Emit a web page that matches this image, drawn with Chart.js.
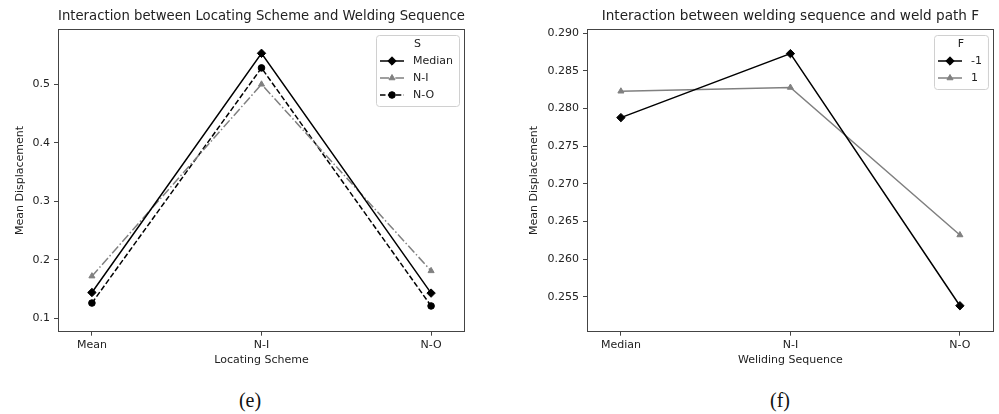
<!DOCTYPE html>
<html>
<head>
<meta charset="utf-8">
<script src="https://cdn.jsdelivr.net/npm/chart.js@4"></script>
<style>
  body { margin: 0; background: #fff; }
  #wrap { position: relative; width: 999px; height: 414px; overflow: hidden; }
  canvas { position: absolute; top: 0; }
  .cap { position: absolute; top: 389px; width: 60px; text-align: center;
         font: 20px "Liberation Serif", serif; color: #111; line-height: 22px; }
</style>
</head>
<body>
<div id="wrap">
  <canvas id="chartE" width="500" height="370" style="left:0"></canvas>
  <canvas id="chartF" width="499" height="370" style="left:500px"></canvas>
  <div class="cap" style="left:220px">(e)</div>
  <div class="cap" style="left:750px">(f)</div>
</div>
<script>
// (e) locating scheme x welding sequence
const locatingSchemes = ['Mean', 'N-I', 'N-O'];
const seqMedian = [0.144, 0.553, 0.143];
const seqNI = [0.172, 0.500, 0.181];
const seqNO = [0.126, 0.528, 0.121];
const ticksE = [0.1, 0.2, 0.3, 0.4, 0.5];

// (f) welding sequence x weld path F
const weldingSequences = ['Median', 'N-I', 'N-O'];
const pathMinus = [0.2788, 0.2873, 0.2538];
const pathPlus = [0.2823, 0.2828, 0.2632];
const ticksF = [0.255, 0.260, 0.265, 0.270, 0.275, 0.280, 0.285, 0.290];

Chart.defaults.font.family = '"DejaVu Sans", sans-serif';
Chart.defaults.font.size = 11;
Chart.defaults.color = '#222';

const toPoints = vals => vals.map((v, i) => ({ x: i, y: v }));

// frame around the plot + matplotlib style legend inside the axes
const mplFrame = {
    id: 'mplFrame',
    afterDatasetsDraw(chart, args, opts) {
        const { ctx, chartArea: a } = chart;
        ctx.save();
        ctx.strokeStyle = '#444';
        ctx.lineWidth = 1;
        ctx.strokeRect(Math.round(a.left) + 0.5, Math.round(a.top) + 0.5,
            Math.round(a.right - a.left) - 1, Math.round(a.bottom - a.top));

        const sets = chart.data.datasets;
        ctx.font = '11px "DejaVu Sans"';
        const textW = Math.max(...sets.map(d => ctx.measureText(d.label).width));
        const w = 4 + 24 + 9 + textW + 6;
        const h = 26 + (sets.length - 1) * 17 + 11;
        const x0 = Math.round(a.right - 6 - w), y0 = Math.round(a.top + 6);
        ctx.beginPath();
        ctx.roundRect(x0 + 0.5, y0 + 0.5, w, h, 3);
        ctx.fillStyle = 'rgba(255,255,255,0.8)';
        ctx.fill();
        ctx.strokeStyle = '#d0d0d0';
        ctx.stroke();

        ctx.fillStyle = '#222';
        ctx.textAlign = 'center';
        ctx.textBaseline = 'middle';
        ctx.fillText(opts.title, x0 + w / 2, y0 + 9);
        sets.forEach((d, i) => {
            const y = y0 + 26 + i * 17;
            ctx.strokeStyle = d.borderColor;
            ctx.lineWidth = d.borderWidth;
            ctx.setLineDash(d.borderDash || []);
            ctx.beginPath();
            ctx.moveTo(x0 + 4, y);
            ctx.lineTo(x0 + 28, y);
            ctx.stroke();
            ctx.setLineDash([]);
            ctx.fillStyle = d.borderColor;
            ctx.lineWidth = 1;
            Chart.helpers.drawPoint(ctx, { pointStyle: d.pointStyle, radius: d.pointRadius, rotation: 0, borderWidth: 1 }, x0 + 16, y);
            ctx.fillStyle = '#222';
            ctx.textAlign = 'left';
            ctx.fillText(d.label, x0 + 37, y);
        });
        ctx.restore();
    }
};

function lineSet(label, vals, color, dash, style, radius) {
    return {
        label: label,
        data: toPoints(vals),
        borderColor: color,
        backgroundColor: color,
        pointBackgroundColor: color,
        pointBorderColor: color,
        borderWidth: 1.5,
        borderDash: dash,
        pointStyle: style,
        pointRadius: radius,
        pointBorderWidth: 1,
        tension: 0
    };
}

function makeChart(el, cfg) {
    return new Chart(document.getElementById(el), {
        type: 'line',
        data: { datasets: cfg.datasets },
        plugins: [mplFrame],
        options: {
            responsive: false,
            animation: false,
            devicePixelRatio: 1,
            layout: { padding: { left: 0, right: cfg.padRight, top: 0, bottom: 0 } },
            plugins: {
                legend: { display: false },
                tooltip: { enabled: false },
                title: {
                    display: true,
                    text: cfg.title,
                    fullSize: false,
                    font: { size: 13.6, weight: 'normal' },
                    padding: { top: 8, bottom: 5 }
                },
                mplFrame: { title: cfg.legendTitle }
            },
            scales: {
                x: {
                    type: 'linear',
                    min: -0.2,
                    max: 2.2,
                    afterBuildTicks: s => { s.ticks = cfg.categories.map((c, i) => ({ value: i })); },
                    afterFit: s => { s.height = 38.3; },
                    ticks: { callback: v => cfg.categories[v], padding: 3, maxRotation: 0 },
                    grid: { drawOnChartArea: false, drawTicks: true, tickLength: 4, color: '#444' },
                    border: { display: false },
                    title: { display: true, text: cfg.xTitle, padding: { top: 0, bottom: 3.4 } }
                },
                y: {
                    min: cfg.yMin,
                    max: cfg.yMax,
                    afterBuildTicks: s => { s.ticks = cfg.yTicks.map(v => ({ value: v })); },
                    afterFit: s => { s.width = cfg.yWidth; },
                    ticks: { callback: v => v.toFixed(cfg.digits), padding: 4 },
                    grid: { drawOnChartArea: false, drawTicks: true, tickLength: 4, color: '#444' },
                    border: { display: false },
                    title: { display: true, text: 'Mean Displacement', padding: { top: cfg.yTitlePad, bottom: 0 } }
                }
            }
        }
    });
}

makeChart('chartE', {
    title: 'Interaction between Locating Scheme and Welding Sequence',
    legendTitle: 'S',
    xTitle: 'Locating Scheme',
    categories: locatingSchemes,
    yMin: 0.077, yMax: 0.594, yTicks: ticksE, digits: 1,
    yWidth: 58, yTitlePad: 14, padRight: 35,
    datasets: [
        lineSet('Median', seqMedian, '#000000', [], 'rectRot', 4.2),
        lineSet('N-I', seqNI, '#808080', [9, 2.4, 1.5, 2.4], 'triangle', 3.5),
        lineSet('N-O', seqNO, '#000000', [5.5, 2.4], 'circle', 3.3)
    ]
});

makeChart('chartF', {
    title: 'Interaction between welding sequence and weld path F',
    legendTitle: 'F',
    xTitle: 'Weliding Sequence',
    categories: weldingSequences,
    yMin: 0.25035, yMax: 0.29053, yTicks: ticksF, digits: 3,
    yWidth: 87, yTitlePad: 28, padRight: 5,
    datasets: [
        lineSet('-1', pathMinus, '#000000', [], 'rectRot', 4.2),
        lineSet('1', pathPlus, '#808080', [], 'triangle', 3.5)
    ]
});
</script>
</body>
</html>
